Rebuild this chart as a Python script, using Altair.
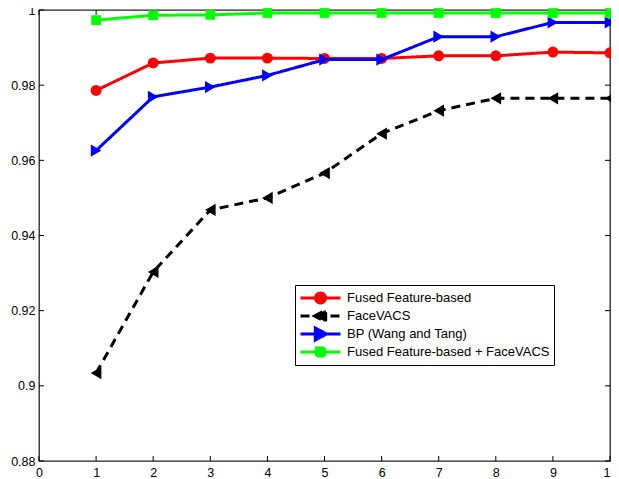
import altair as alt
import pandas as pd

x_vals = [1, 2, 3, 4, 5, 6, 7, 8, 9, 10]
names = ["Fused Feature-based", "FaceVACS", "BP (Wang and Tang)", "Fused Feature-based + FaceVACS"]
fused = [0.9786, 0.9859, 0.9872, 0.9872, 0.9871, 0.9871, 0.9878, 0.9878, 0.9888, 0.9886]
facevacs = [0.9034, 0.9303, 0.9468, 0.9500, 0.9566, 0.9671, 0.9732, 0.9765, 0.9765, 0.9765]
bp = [0.9626, 0.9769, 0.9795, 0.9826, 0.9868, 0.9868, 0.9929, 0.9929, 0.9967, 0.9967]
fused_fv = [0.9973, 0.9986, 0.9987, 0.9992, 0.9992, 0.9992, 0.9992, 0.9992, 0.9992, 0.9992]
colors = ["#ff0000", "#000000", "#0000ff", "#00ff00"]
marker_shapes = ["circle", "triangle-left", "triangle-right", "square"]
marker_sizes = [120, 150, 150, 95]
dashes = [[1, 0], [9, 6], [1, 0], [1, 0]]
legend_paths = [
    "M-1,0L1,0M0.25,0A0.25,0.25,0,1,1,-0.25,0A0.25,0.25,0,1,1,0.25,0Z",
    "M-1,0L1,0M-0.3,0L0.26,-0.3L0.26,0.3Z",
    "M-1,0L1,0M0.3,0L-0.26,-0.3L-0.26,0.3Z",
    "M-1,0L1,0M-0.2,-0.2L0.2,-0.2L0.2,0.2L-0.2,0.2Z",
]
y_ticks = [0.88, 0.90, 0.92, 0.94, 0.96, 0.98, 1.00]
x_ticks = [0, 1, 2, 3, 4, 5, 6, 7, 8, 9, 10]

rows = []
for name, vals in zip(names, [fused, facevacs, bp, fused_fv]):
    for xv, yv in zip(x_vals, vals):
        rows.append({"x": xv, "y": yv, "series": name})
df = pd.DataFrame(rows)

W, H = 571, 451
FONT = "Liberation Sans"

xscale = alt.Scale(domain=[0, 10], nice=False, zero=False)
yscale = alt.Scale(domain=[0.88, 1.0], nice=False, zero=False)
xaxis = alt.Axis(values=x_ticks, format="d", ticks=False, domain=False, grid=False,
                 labelPadding=5, labelFlush=False, labelOverlap=False, title=None)
yaxis = alt.Axis(values=y_ticks, format=".2~f", ticks=False, domain=False, grid=False,
                 labelPadding=4, labelFlush=False, labelOverlap=False, title=None)

layers = []

ytdf = pd.DataFrame({"tv": y_ticks})
xtdf = pd.DataFrame({"tx": x_ticks})
tick_style = dict(color="black", strokeWidth=1)
layers.append(alt.Chart(ytdf).mark_rule(**tick_style).encode(
    y=alt.Y("tv:Q", scale=yscale, axis=yaxis), x=alt.value(0), x2=alt.value(5)))
layers.append(alt.Chart(ytdf).mark_rule(**tick_style).encode(
    y=alt.Y("tv:Q", scale=yscale), x=alt.value(W - 5), x2=alt.value(W)))
layers.append(alt.Chart(xtdf).mark_rule(**tick_style).encode(
    x=alt.X("tx:Q", scale=xscale, axis=xaxis), y=alt.value(H), y2=alt.value(H - 5)))
layers.append(alt.Chart(xtdf).mark_rule(**tick_style).encode(
    x=alt.X("tx:Q", scale=xscale), y=alt.value(0), y2=alt.value(5)))

for name, col, shp, sz, dash in zip(names, colors, marker_shapes, marker_sizes, dashes):
    sub = alt.Chart(df).transform_filter(alt.datum.series == name)
    layers.append(sub.mark_line(strokeWidth=3, color=col, strokeDash=dash).encode(
        x=alt.X("x:Q", scale=xscale), y=alt.Y("y:Q", scale=yscale)))
    layers.append(sub.mark_point(filled=True, opacity=1, color=col, shape=shp, size=sz).encode(
        x=alt.X("x:Q", scale=xscale), y=alt.Y("y:Q", scale=yscale)))

leg = alt.Legend(
    title=None, orient="none", legendX=256, legendY=275,
    symbolSize=1600, symbolStrokeWidth=3, symbolOpacity=1,
    labelFont=FONT, labelFontSize=13, labelColor="black", labelOffset=5, labelLimit=400,
    strokeColor="black", padding=4, fillColor="white", rowPadding=0, clipHeight=18,
)
layers.append(alt.Chart(df).transform_filter("false").mark_point(filled=True, opacity=1).encode(
    fill=alt.Fill("series:N", scale=alt.Scale(domain=names, range=colors), legend=leg),
    stroke=alt.Stroke("series:N", scale=alt.Scale(domain=names, range=colors), legend=leg),
    shape=alt.Shape("series:N", scale=alt.Scale(domain=names, range=legend_paths), legend=leg),
    strokeDash=alt.StrokeDash("series:N", scale=alt.Scale(domain=names, range=dashes), legend=leg),
))

chart = alt.layer(*layers).properties(
    width=W, height=H,
    autosize=alt.AutoSizeParams(type="none"),
    padding={"left": 31, "top": 2, "right": 1, "bottom": 16},
).configure_view(
    stroke="#222222", strokeWidth=1.3
).configure_axis(
    labelFont=FONT, labelFontSize=12.5, labelColor="black"
)

chart.save("out.html", embed_options={"renderer": "svg", "actions": False})
